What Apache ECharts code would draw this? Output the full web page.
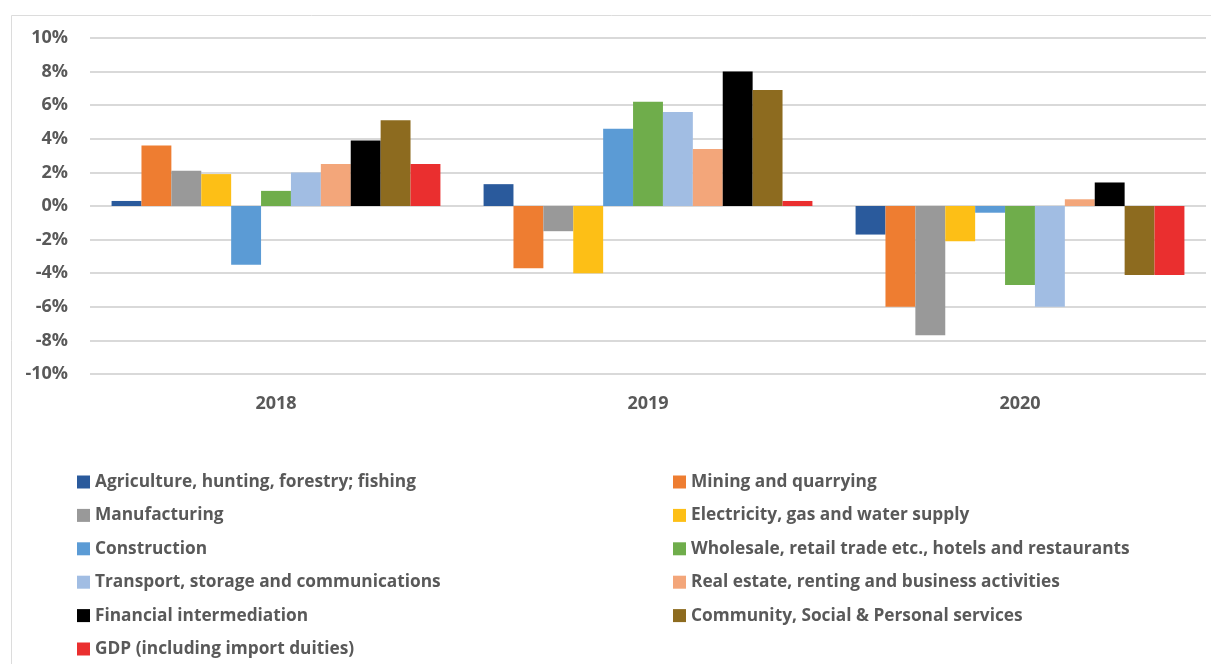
<!DOCTYPE html>
<html>
<head>
<meta charset="utf-8">
<script src="https://cdn.jsdelivr.net/npm/echarts@6/dist/echarts.min.js"></script>
<style>
  html, body { margin: 0; padding: 0; background: #fff; }
  #chart { width: 1211px; height: 664px; }
</style>
</head>
<body>
<div id="chart"></div>
<script>
// Annual real growth by sector, per cent
const years = ['2018', '2019', '2020'];

const agriculture   = [0.3, 1.3, -1.7];
const mining        = [3.6, -3.7, -6.0];
const manufacturing = [2.1, -1.5, -7.7];
const electricity   = [1.9, -4.0, -2.1];
const construction  = [-3.5, 4.6, -0.4];
const wholesale     = [0.9, 6.2, -4.7];
const transport     = [2.0, 5.6, -6.0];
const realEstate    = [2.5, 3.4, 0.4];
const financial     = [3.9, 8.0, 1.4];
const community     = [5.1, 6.9, -4.1];
const gdp           = [2.5, 0.3, -4.1];

const seriesNames = [
  'Agriculture, hunting, forestry; fishing',
  'Mining and quarrying',
  'Manufacturing',
  'Electricity, gas and water supply',
  'Construction',
  'Wholesale, retail trade etc., hotels and restaurants',
  'Transport, storage and communications',
  'Real estate, renting and business activities',
  'Financial intermediation',
  'Community, Social & Personal services',
  'GDP (including import duities)'
];
const seriesValues = [agriculture, mining, manufacturing, electricity, construction,
  wholesale, transport, realEstate, financial, community, gdp];
const seriesColors = ['#2a5a9c', '#ee7d31', '#999999', '#fdbf16', '#5b9bd5',
  '#6fad4b', '#a1bde3', '#f3a67a', '#000000', '#8d6b1f', '#ea2f2f'];

const yTicks = { min: -10, max: 10, step: 2 };

const FONT = '"Open Sans", "Noto Sans", sans-serif';
const TEXT = '#595959';

const chart = echarts.init(document.getElementById('chart'), null, { renderer: 'canvas' });

const legendText = {
  color: TEXT, fontFamily: FONT, fontSize: 17.3, fontWeight: 'bold', lineHeight: 20
};

chart.setOption({
  animation: false,
  backgroundColor: '#ffffff',
  color: seriesColors,
  graphic: [{
    type: 'rect',
    shape: { x: 11.5, y: 15.5, width: 1300, height: 700 },
    style: { fill: 'none', stroke: '#dcdcdc', lineWidth: 1 },
    silent: true
  }],
  grid: { left: 90, right: 5, top: 38, height: 336, containLabel: false },
  legend: [
    {
      orient: 'vertical', left: 77, top: 472, padding: 0,
      itemWidth: 13, itemHeight: 13, itemGap: 13.4,
      icon: 'rect', textStyle: legendText,
      data: seriesNames.filter((_, i) => i % 2 === 0)
    },
    {
      orient: 'vertical', left: 673, top: 472, padding: 0,
      itemWidth: 13, itemHeight: 13, itemGap: 13.4,
      icon: 'rect', textStyle: legendText,
      data: seriesNames.filter((_, i) => i % 2 === 1)
    }
  ],
  xAxis: {
    type: 'category',
    data: years,
    position: 'bottom',
    axisLine: { show: false },
    axisTick: { show: false },
    axisLabel: { color: TEXT, fontFamily: FONT, fontSize: 18, fontWeight: 'bold', margin: 21 }
  },
  yAxis: {
    type: 'value',
    min: yTicks.min, max: yTicks.max, interval: yTicks.step,
    axisLine: { show: false },
    axisTick: { show: false },
    splitLine: { lineStyle: { color: '#d9d9d9', width: 2 } },
    axisLabel: {
      color: TEXT, fontFamily: FONT, fontSize: 18, fontWeight: 'bold', margin: 22,
      formatter: v => v + '%'
    }
  },
  series: seriesNames.map((name, i) => ({
    name,
    type: 'bar',
    data: seriesValues[i],
    barGap: '0%',
    barCategoryGap: '11.6%',
    itemStyle: { color: seriesColors[i] }
  }))
});
</script>
</body>
</html>
